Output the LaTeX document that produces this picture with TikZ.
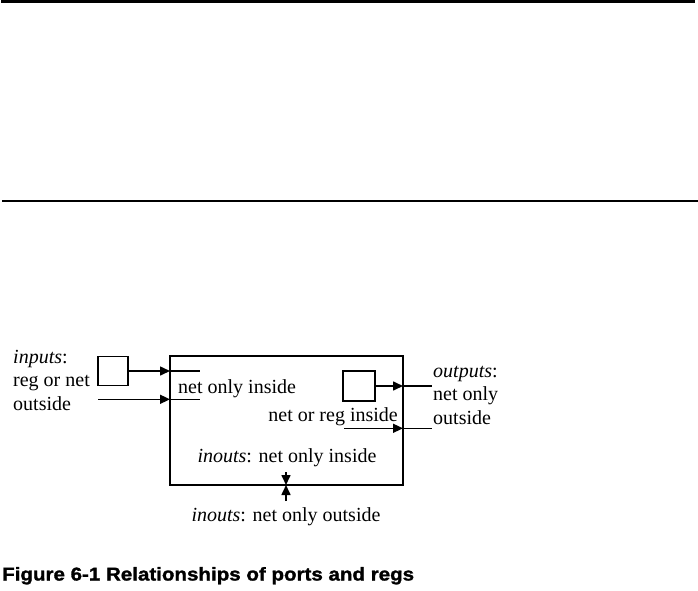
\documentclass[tikz,border=0pt]{standalone}
\usepackage{fontspec}
\setmainfont{Liberation Serif}
\newfontfamily\capfont[FakeStretch=1.11,BoldFeatures={FakeBold=1.5}]{Liberation Sans}
\usetikzlibrary{arrows.meta}
\begin{document}
\begin{tikzpicture}[x=1pt,y=-1pt,
  lbl/.style={inner sep=0pt,align=left,font=\fontsize{20}{23.5}\selectfont},
  box/.style={draw,line width=1.6pt,inner sep=0pt,outer sep=0pt},
  wire/.style={line width=1.6pt},
  arr/.style={line width=1.6pt,-{Triangle[length=10pt,width=9pt]}},
  rule/.style={line width=2.4pt}]
\useasboundingbox (0,0) rectangle (698,591);
% horizontal rules
\coordinate (r1a) at (1,1.5); \coordinate (r1b) at (695,1.5);
\coordinate (r2a) at (2,201); \coordinate (r2b) at (698,201);
\draw[rule] (r1a) -- (r1b);
\draw[rule] (r2a) -- (r2b);
% module box
\node[box,minimum width=233pt,minimum height=129pt] (mod) at (286.5,420.5) {};
% input register
\node[box,minimum width=30pt,minimum height=29pt] (ireg) at (113,371) {};
\coordinate (xin) at (200,0);
\coordinate (i2s) at (98,399.3);
\draw[arr] (ireg.east) -- (ireg.east -| mod.west);
\draw[wire] (ireg.east -| mod.west) -- (ireg.east -| xin);
\draw[arr] (i2s) -- (i2s -| mod.west);
\draw[wire] (i2s -| mod.west) -- (i2s -| xin);
% output register
\node[box,minimum width=32pt,minimum height=30pt] (oreg) at (359,386) {};
\coordinate (xout) at (431.7,0);
\coordinate (o2s) at (344,428.3);
\draw[arr] (oreg.east) -- (oreg.east -| mod.east);
\draw[wire] (oreg.east -| mod.east) -- (oreg.east -| xout);
\draw[arr] (o2s) -- (o2s -| mod.east);
\draw[wire] (o2s -| mod.east) -- (o2s -| xout);
% inout
\coordinate (ioT) at (286,472);
\coordinate (ioB) at (286,501);
\draw[arr] (ioT) -- (ioT |- mod.south);
\draw[arr] (ioB) -- (ioB |- mod.south);
% labels
\node[lbl,anchor=base west] (tin) at (13,410) {\textit{inputs}:\\reg or net\\outside};
\node[lbl,anchor=base west] (tout) at (433,424) {\textit{outputs}:\\net only\\outside};
\node[lbl,anchor=base west] (tnoi) at (178,393) {net only inside};
\node[lbl,anchor=base east] (tnri) at (398,421) {net or reg inside};
\node[lbl,anchor=base] (tioi) at (287,462) {\textit{inouts}: net only inside};
\node[lbl,anchor=base] (tioo) at (286,521) {\textit{inouts}: net only outside};
% caption
\node[inner sep=0pt,anchor=base west,font=\capfont\bfseries\fontsize{18.5}{22}\selectfont] (cap) at (2,580.5) {Figure 6-1 Relationships of ports and regs};
\end{tikzpicture}
\end{document}
